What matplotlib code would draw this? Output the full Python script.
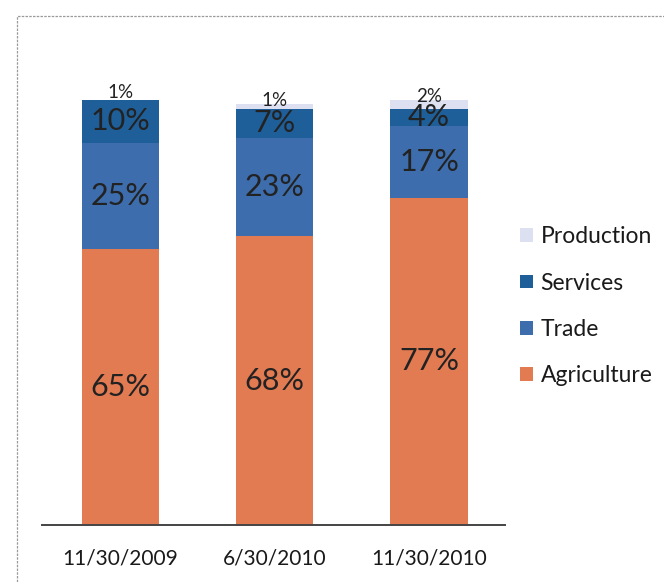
import numpy as np
import matplotlib
matplotlib.use("Agg")
import matplotlib.pyplot as plt
from matplotlib.patches import Patch, Rectangle

plt.rcParams['font.family'] = ['Lato', 'DejaVu Sans']

# survey dates and sector shares (%)
dates = ["11/30/2009", "6/30/2010", "11/30/2010"]
agriculture = [65, 68, 77]
trade = [25, 23, 17]
services = [10, 7, 4]
production = [1, 1, 2]

colors = {
    "Agriculture": "#E27A52",
    "Trade": "#3D6DAC",
    "Services": "#1F5F99",
    "Production": "#DCE0F0",
}

fig = plt.figure(figsize=(6.64, 5.82), dpi=100)
ax = fig.add_axes([0.063, 0.098, 0.697, 0.730])

x = np.arange(len(dates))
w = 0.5
series = [("Agriculture", agriculture), ("Trade", trade),
          ("Services", services), ("Production", production)]

bottom = np.zeros(len(dates))
for name, vals in series:
    vals = np.array(vals, dtype=float)
    ax.bar(x, vals, w, bottom=bottom, color=colors[name], linewidth=0)
    for xi, b, v in zip(x, bottom, vals):
        if name == "Production":
            # thin slice: label sits on the top edge
            ax.text(xi, b + v + 0.8, f"{v:.0f}%", ha="center", va="center",
                    fontsize=13.5, color="#222222", clip_on=False)
        else:
            ax.text(xi, b + v / 2, f"{v:.0f}%", ha="center", va="center",
                    fontsize=22, color="#222222")
    bottom += vals

ax.set_xlim(-0.51, 2.49)
ax.set_ylim(0, 100)
ax.set_yticks([])
ax.set_xticks(x)
ax.set_xticklabels(dates, fontsize=15, color="#1a1a1a")
ax.tick_params(axis="x", length=0, pad=17)
for s in ["top", "right", "left"]:
    ax.spines[s].set_visible(False)
ax.spines["bottom"].set_color("#444444")
ax.spines["bottom"].set_linewidth(1.4)
ax.patch.set_alpha(0)

# legend, top entry first
handles = [Patch(facecolor=colors[n], edgecolor="none", label=n)
           for n, _ in reversed(series)]
fig.legend(handles=handles, loc="center left", bbox_to_anchor=(0.752, 0.474),
           frameon=False, fontsize=16.5, handlelength=0.55, handleheight=0.55,
           handletextpad=0.35, labelspacing=1.1, labelcolor="#1a1a1a")

# chart area border
fig.add_artist(Rectangle((0.025, -0.05), 1.1, 1.022, transform=fig.transFigure,
                         fill=False, edgecolor="#9a9a9a", linewidth=0.9,
                         linestyle=(0, (2, 1))))

fig.savefig("out.png", dpi=100)
